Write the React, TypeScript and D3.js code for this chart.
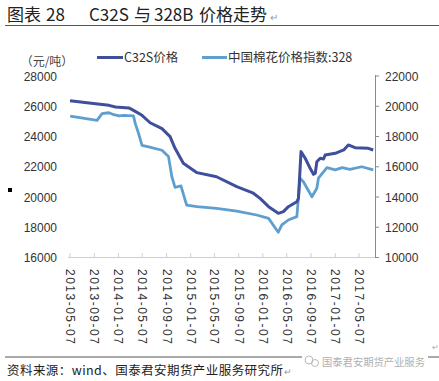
import React from "react";
import * as d3 from "d3";

const c32sDates = [
  "2013-05-07","2013-09-13","2013-11-20","2013-12-23","2014-03-01","2014-03-24","2014-05-06","2014-06-16",
  "2014-08-15","2014-09-25","2014-10-20","2014-12-01","2015-02-08","2015-05-18","2015-08-28","2015-11-20",
  "2015-12-24","2016-02-05","2016-03-25","2016-04-20","2016-05-15","2016-06-27","2016-07-05","2016-07-18",
  "2016-08-08","2016-09-02","2016-09-19","2016-09-28","2016-10-06","2016-10-23","2016-11-09","2016-11-17",
  "2017-01-07","2017-02-19","2017-03-14","2017-04-17","2017-06-23","2017-07-18",
];
const c32sValues = [
  26370,26170,26060,25950,25890,25730,25400,24910,
  24520,23990,23220,22230,21610,21340,20680,20250,
  19910,19360,18920,19030,19360,19690,19910,23000,
  22560,21900,21500,21570,22330,22560,22510,22780,
  22890,23110,23440,23260,23220,23110,
];

const cottonDates = [
  "2013-05-08","2013-09-21","2013-10-16","2013-11-20","2013-12-15","2014-01-10","2014-02-04","2014-03-24",
  "2014-04-02","2014-04-19","2014-05-06","2014-06-09","2014-08-15","2014-09-17","2014-10-04","2014-10-20",
  "2014-11-19","2014-12-10","2014-12-18","2015-02-08","2015-05-18","2015-08-28","2015-12-07","2016-02-05",
  "2016-03-25","2016-04-12","2016-05-15","2016-06-27","2016-07-13","2016-07-30","2016-09-11","2016-10-06",
  "2016-10-14","2016-11-26","2017-01-07","2017-02-11","2017-03-22","2017-05-21","2017-07-18",
];
const cottonValues = [
  19340,19070,19510,19570,19440,19360,19400,19360,
  18850,18190,17420,17310,17090,16670,15340,14640,
  14730,13800,13470,13360,13250,13070,12810,12590,
  11670,12150,12480,12700,15240,15010,14020,14580,
  15240,15940,15790,15940,15830,16000,15790,
];

const xTickLabels = [
  "2013-05-07","2013-09-07","2014-01-07","2014-05-07","2014-09-07","2015-01-07","2015-05-07",
  "2015-09-07","2016-01-07","2016-05-07","2016-09-07","2017-01-07","2017-05-07",
];
const leftTicks = [16000, 18000, 20000, 22000, 24000, 26000, 28000];
const rightTicks = [10000, 12000, 14000, 16000, 18000, 20000, 22000];
const seriesNames = ["C32S价格", "中国棉花价格指数:328"];
const titleParts = ["图表", "28", "C32S", "与", "328B", "价格走势"];

const parse = d3.timeParse("%Y-%m-%d");

export default function App() {
  const W = 439, H = 381;
  const x = d3.scaleTime()
    .domain([parse("2013-05-07")!, parse("2017-07-27")!])
    .range([70, 375]);
  const yL = d3.scaleLinear().domain([16000, 28000]).range([257.5, 76]);
  const yR = d3.scaleLinear().domain([10000, 22000]).range([257.5, 76]);

  const darkData = c32sDates.map((d, i) => ({ d: parse(d)!, v: c32sValues[i] }));
  const lightData = cottonDates.map((d, i) => ({ d: parse(d)!, v: cottonValues[i] }));

  const lineL = d3.line<{ d: Date; v: number }>().x(p => x(p.d)).y(p => yL(p.v));
  const lineR = d3.line<{ d: Date; v: number }>().x(p => x(p.d)).y(p => yR(p.v));

  const darkColor = "#3f4f9c";
  const lightColor = "#5f9fd0";
  const font = "'Liberation Sans', Arial, 'Noto Sans CJK SC', sans-serif";
  const cjk = "'Noto Sans CJK SC', sans-serif";
  const titleX = [7, 46, 89, 134, 154, 199];

  return (
    <svg width={W} height={H} style={{ position: "absolute", left: 0, top: 0, background: "#fff" }}>
      <rect x={0} y={0} width={W} height={H} fill="#fff" />
      {/* title */}
      <text y={21} fontFamily={cjk} fontSize={17} fill="#222">
        {titleParts.map((p, i) => (
          <tspan key={i} x={titleX[i]}>{p}</tspan>
        ))}
      </text>
      <text x={270} y={21} fontFamily={cjk} fontSize={10} fill="#999">↵</text>
      <line x1={5} x2={439} y1={25.5} y2={25.5} stroke="#555" strokeWidth={1} />

      {/* unit + legend */}
      <text x={47} y={66} textAnchor="middle" fontFamily={cjk} fontSize={12} fill="#444">（元/吨）</text>
      <line x1={97} x2={123} y1={57.5} y2={57.5} stroke={darkColor} strokeWidth={3} />
      <text x={124} y={62} fontFamily={cjk} fontSize={12.5} fill="#333">{seriesNames[0]}</text>
      <line x1={202} x2={227} y1={57.5} y2={57.5} stroke={lightColor} strokeWidth={3} />
      <text x={228} y={62} fontFamily={cjk} fontSize={12.5} fill="#333">{seriesNames[1]}</text>

      {/* left axis labels */}
      {leftTicks.map(t => (
        <text key={"l" + t} x={57} y={yL(t) + 4.5} textAnchor="end" fontFamily={font} fontSize={12} fill="#333">{t}</text>
      ))}
      {/* right axis */}
      <line x1={375.5} x2={375.5} y1={75} y2={258} stroke="#8a8a8a" strokeWidth={1} />
      {rightTicks.map(t => (
        <g key={"r" + t}>
          <line x1={375.5} x2={379} y1={yR(t)} y2={yR(t)} stroke="#8a8a8a" strokeWidth={1} />
          <text x={385} y={yR(t) + 4.5} fontFamily={font} fontSize={12} fill="#333">{t}</text>
        </g>
      ))}
      {/* x axis */}
      <line x1={68} x2={375} y1={257.5} y2={257.5} stroke="#d0d0d0" strokeWidth={1} />
      {xTickLabels.map(t => {
        const xx = x(parse(t)!);
        return (
          <g key={t}>
            <line x1={xx} x2={xx} y1={253} y2={257.5} stroke="#d0d0d0" strokeWidth={1} />
            <text transform={`translate(${xx - 4},${269}) rotate(90)`} fontFamily={font} fontSize={12} letterSpacing={1.5} fill="#333">{t}</text>
          </g>
        );
      })}

      {/* series */}
      <path d={lineR(lightData) || ""} fill="none" stroke={lightColor} strokeWidth={2.8} strokeLinejoin="round" />
      <path d={lineL(darkData) || ""} fill="none" stroke={darkColor} strokeWidth={3} strokeLinejoin="round" />

      {/* bullet */}
      <rect x={8} y={188} width={4} height={4} fill="#000" />
      <text x={432} y={350} fontFamily={cjk} fontSize={8} fill="#aaa">↵</text>

      {/* footer */}
      <line x1={5} x2={439} y1={357} y2={357} stroke="#555" strokeWidth={1} />
      <rect x={302} y={352} width={126} height={14} fill="#fff" />
      <circle cx={309} cy={360} r={4} fill="none" stroke="#bbb" strokeWidth={1} />
      <circle cx={315} cy={363} r={3.5} fill="none" stroke="#bbb" strokeWidth={1} />
      <text x={322} y={366} fontFamily={cjk} fontSize={10.3} fill="#b0b0b0">国泰君安期货产业服务</text>
      <text x={7} y={375} fontFamily={cjk} fontSize={12.5} fill="#222" textLength={276} lengthAdjust="spacing">资料来源：wind、国泰君安期货产业服务研究所</text>
      <text x={284} y={375} fontFamily={cjk} fontSize={9} fill="#999">↵</text>
    </svg>
  );
}
